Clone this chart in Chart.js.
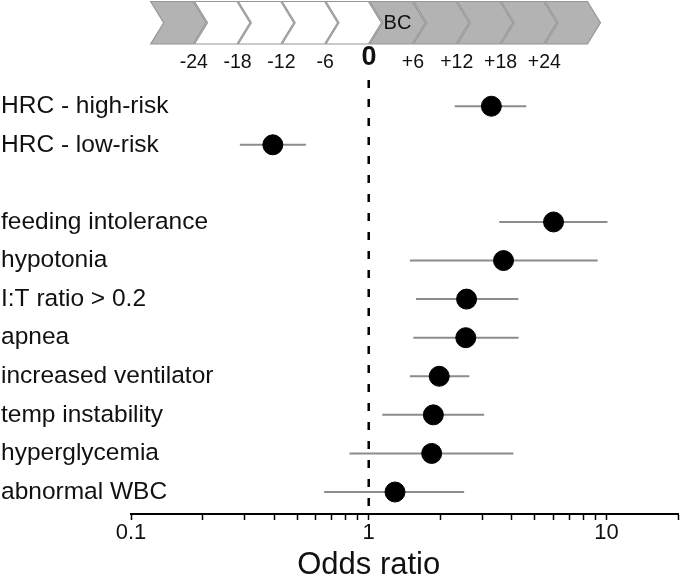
<!DOCTYPE html>
<html>
<head>
<meta charset="utf-8">
<script src="https://cdn.jsdelivr.net/npm/chart.js@4.4.1/dist/chart.umd.min.js"></script>
<style>
  html, body { margin: 0; padding: 0; background: #fff; }
</style>
</head>
<body>
<canvas id="forest" width="680" height="577"></canvas>
<script>
// filas del forest plot (la fila vacía separa los dos bloques)
const rowLabels = ['HRC - high-risk', 'HRC - low-risk', '', 'feeding intolerance', 'hypotonia',
  'I:T ratio > 0.2', 'apnea', 'increased ventilator', 'temp instability', 'hyperglycemia', 'abnormal WBC'];
const oddsRatio = [3.28, 0.395, null, 5.99, 3.69, 2.58, 2.56, 1.98, 1.87, 1.84, 1.29];
const ciLow     = [2.30, 0.287, null, 3.54, 1.49, 1.58, 1.54, 1.49, 1.14, 0.83, 0.65];
const ciHigh    = [4.60, 0.544, null, 10.1, 9.19, 4.26, 4.27, 2.65, 3.06, 4.06, 2.52];

// eje x (odds ratio, logarítmico)
const xMajorTicks = [0.1, 1, 10];
const xMinorTicks = [0.2, 0.3, 0.4, 0.5, 0.6, 0.7, 0.8, 0.9, 2, 3, 4, 5, 6, 7, 8, 9, 20];
const nullEffect = 1;

// cabecera de horas respecto al hemocultivo (BC)
const hourTicks = [-24, -18, -12, -6, 0, 6, 12, 18, 24];
const phaseStart = [-30, -24, -18, -12, -6, 0, 6, 12, 18, 24];
const phaseFill = ['#b3b3b3', '#ffffff', '#ffffff', '#ffffff', '#ffffff',
  '#b3b3b3', '#b3b3b3', '#b3b3b3', '#b3b3b3', '#b3b3b3'];
const phaseText = ['', '', '', '', '', 'BC', '', '', '', ''];
const phaseHours = 6;

const Y_MIN = -0.68, Y_MAX = 10.57;
const FONT = "'Liberation Sans', Arial, Helvetica, sans-serif";
Chart.defaults.font.family = FONT;
Chart.defaults.color = '#111';

// datos para los datasets
const points = [];
const ciSegments = [];
rowLabels.forEach((lab, i) => {
  if (oddsRatio[i] == null) return;
  points.push({ x: oddsRatio[i], y: i });
  ciSegments.push({ x: ciLow[i], y: i }, { x: ciHigh[i], y: i }, { x: ciHigh[i], y: null });
});
const refLine = [{ x: nullEffect, y: Y_MIN }, { x: nullEffect, y: Y_MAX }];

// fondo blanco
const whiteBg = {
  id: 'whiteBg',
  beforeDraw(chart) {
    const ctx = chart.ctx;
    ctx.save();
    ctx.fillStyle = '#fff';
    ctx.fillRect(0, 0, chart.width, chart.height);
    ctx.restore();
  }
};

// flechas (chevrons) de la cabecera, posicionadas con la escala de horas
const chevrons = {
  id: 'chevrons',
  afterDraw(chart) {
    const s = chart.scales.xt;
    const ctx = chart.ctx;
    const top = 1.5, bot = 44, mid = (top + bot) / 2, d = 13;
    ctx.save();
    phaseStart.forEach((h, i) => {
      const l = s.getPixelForValue(h) + 0.7;
      const r = s.getPixelForValue(h + phaseHours) - 0.7;
      ctx.beginPath();
      ctx.moveTo(l, top);
      ctx.lineTo(r, top);
      ctx.lineTo(r + d, mid);
      ctx.lineTo(r, bot);
      ctx.lineTo(l, bot);
      ctx.lineTo(l + d, mid);
      ctx.closePath();
      ctx.fillStyle = phaseFill[i];
      ctx.fill();
      ctx.strokeStyle = '#969696';
      ctx.lineWidth = 1.2;
      ctx.stroke();
      if (phaseText[i]) {
        ctx.fillStyle = '#111';
        ctx.font = '20px ' + FONT;
        ctx.textAlign = 'center';
        ctx.textBaseline = 'middle';
        ctx.fillText(phaseText[i], (l + r + d) / 2, mid + 1);
      }
    });
    ctx.restore();
  }
};

// título del eje x centrado en OR = 1
const xTitle = {
  id: 'xTitle',
  afterDraw(chart) {
    const s = chart.scales.x;
    const ctx = chart.ctx;
    ctx.save();
    ctx.fillStyle = '#111';
    ctx.font = '31px ' + FONT;
    ctx.textAlign = 'center';
    ctx.textBaseline = 'middle';
    ctx.fillText('Odds ratio', s.getPixelForValue(nullEffect), s.bottom - 12);
    ctx.restore();
  }
};

new Chart(document.getElementById('forest'), {
  type: 'scatter',
  data: {
    datasets: [
      {
        data: points,
        backgroundColor: '#000',
        borderColor: '#000',
        pointRadius: 10,
        pointHoverRadius: 10
      },
      {
        data: refLine,
        showLine: true,
        borderColor: '#000',
        borderWidth: 2.5,
        borderDash: [8, 11],
        pointRadius: 0
      },
      {
        data: ciSegments,
        showLine: true,
        spanGaps: false,
        borderColor: '#8c8c8c',
        borderWidth: 2,
        pointRadius: 0
      }
    ]
  },
  options: {
    responsive: false,
    animation: false,
    layout: { autoPadding: false, padding: { left: 0, right: 2, top: 0, bottom: 0 } },
    plugins: { legend: { display: false }, tooltip: { enabled: false } },
    scales: {
      x: {
        type: 'logarithmic',
        position: 'bottom',
        min: 0.1,
        max: 20,
        afterBuildTicks: s => {
          s.ticks = xMajorTicks.concat(xMinorTicks).sort((a, b) => a - b).map(v => ({ value: v }));
        },
        afterFit: s => { s.height = 63; },
        ticks: {
          autoSkip: false,
          maxRotation: 0,
          padding: 0,
          font: { size: 22 },
          color: '#111',
          callback: v => (xMajorTicks.includes(v) ? String(v) : '')
        },
        grid: { drawOnChartArea: false, drawTicks: true, tickLength: 6, tickWidth: 1.5, tickColor: '#000' },
        border: { display: true, color: '#000', width: 2 }
      },
      xt: {
        type: 'linear',
        position: 'top',
        min: -32.6,
        max: 42.3,
        afterBuildTicks: s => { s.ticks = hourTicks.map(v => ({ value: v })); },
        afterFit: s => { s.height = 80; },
        ticks: {
          autoSkip: false,
          maxRotation: 0,
          padding: 6,
          color: '#111',
          font: c => (c.tick && c.tick.value === 0 ? { size: 27, weight: 'bold' } : { size: 19.5 }),
          callback: v => (v > 0 ? '+' + v : String(v))
        },
        grid: { display: false, drawTicks: false },
        border: { display: false }
      },
      y: {
        type: 'linear',
        position: 'left',
        reverse: true,
        min: Y_MIN,
        max: Y_MAX,
        afterBuildTicks: s => { s.ticks = rowLabels.map((l, i) => ({ value: i })); },
        afterFit: s => { s.width = 131; },
        ticks: {
          autoSkip: false,
          mirror: true,
          padding: -130,
          font: { size: 24.5 },
          color: '#111',
          callback: v => rowLabels[v]
        },
        grid: { display: false, drawTicks: false },
        border: { display: false }
      }
    }
  },
  plugins: [whiteBg, chevrons, xTitle]
});
</script>
</body>
</html>
